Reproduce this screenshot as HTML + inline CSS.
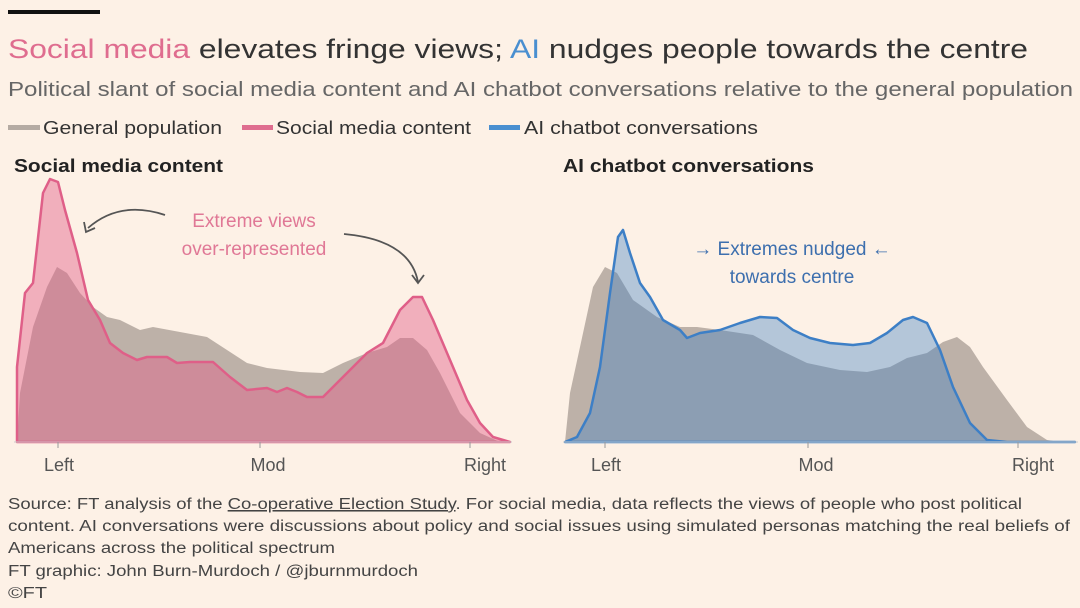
<!DOCTYPE html>
<html><head><meta charset="utf-8"><style>
html,body{margin:0;padding:0;background:#fdf1e6;}
svg{display:block;font-family:"Liberation Sans",sans-serif;}
</style></head><body>
<svg width="1080" height="608" viewBox="0 0 1080 608">
<rect width="1080" height="608" fill="#fdf1e6"/>
<rect x="8" y="10" width="92" height="4" fill="#111"/>
<text x="8" y="58" font-size="27" textLength="1020" lengthAdjust="spacingAndGlyphs" fill="#333"><tspan fill="#df6d8f">Social media</tspan> elevates fringe views; <tspan fill="#4a8fd0">AI</tspan> nudges people towards the centre</text>
<text x="8" y="96" font-size="20" textLength="1065" lengthAdjust="spacingAndGlyphs" fill="#666">Political slant of social media content and AI chatbot conversations relative to the general population</text>
<rect x="8" y="125" width="32" height="5" fill="#b5aba3"/>
<text x="43" y="134" font-size="18" textLength="179" lengthAdjust="spacingAndGlyphs" fill="#333">General population</text>
<rect x="242" y="125" width="31" height="5" fill="#df6d8f"/>
<text x="276" y="134" font-size="18" textLength="195" lengthAdjust="spacingAndGlyphs" fill="#333">Social media content</text>
<rect x="489" y="125" width="31" height="5" fill="#4a8fd0"/>
<text x="524" y="134" font-size="18" textLength="234" lengthAdjust="spacingAndGlyphs" fill="#333">AI chatbot conversations</text>
<text x="14" y="172" font-size="18" font-weight="bold" textLength="209" lengthAdjust="spacingAndGlyphs" fill="#222">Social media content</text>
<text x="563" y="172" font-size="18" font-weight="bold" textLength="251" lengthAdjust="spacingAndGlyphs" fill="#222">AI chatbot conversations</text>

<!-- Left chart -->
<path d="M17,442 L20,393 L33,327 L47,287 L57,267 L67,273 L80,293 L93,307 L107,317 L120,320 L140,330 L153,327 L180,332 L207,337 L227,350 L247,363 L267,368 L300,372 L323,373 L343,363 L367,353 L387,347 L400,338 L413,338 L427,350 L440,373 L460,413 L480,433 L500,442 Z" fill="#bdb1a8"/>
<path d="M17,367 L25,293 L33,283 L43,193 L50,179 L58,182 L65,210 L77,253 L88,300 L100,320 L110,343 L123,353 L137,360 L147,357 L167,357 L177,363 L190,362 L213,362 L230,377 L247,390 L267,388 L277,392 L287,388 L297,392 L307,397 L323,397 L333,387 L350,370 L367,353 L383,343 L400,310 L413,297 L422,297 L433,320 L450,360 L467,400 L480,423 L493,437 L510,442 L17,442 Z" fill="rgba(226,96,138,0.45)" stroke="#df5f88" stroke-width="2.5" stroke-linejoin="round"/>
<line x1="14" y1="442" x2="512" y2="442" stroke="#ccc" stroke-width="1"/>
<g stroke="#999" stroke-width="1"><line x1="58" y1="442" x2="58" y2="448"/><line x1="260" y1="442" x2="260" y2="448"/><line x1="470" y1="442" x2="470" y2="448"/></g>
<g font-size="18" fill="#555" text-anchor="middle"><text x="59" y="471">Left</text><text x="268" y="471">Mod</text><text x="485" y="471">Right</text></g>
<text x="254" y="227" font-size="19" fill="#e07896" text-anchor="middle">Extreme views</text>
<text x="254" y="255" font-size="19" fill="#e07896" text-anchor="middle">over-represented</text>
<path d="M165,215 Q120,200 88,228" fill="none" stroke="#555" stroke-width="1.8"/>
<path d="M84,222 L86,232 L95,228" fill="none" stroke="#555" stroke-width="1.8"/>
<path d="M344,234 Q410,240 418,282" fill="none" stroke="#555" stroke-width="1.8"/>
<path d="M412,275 L418,283 L424,275" fill="none" stroke="#555" stroke-width="1.8"/>

<!-- Right chart -->
<path d="M565,442 L570,393 L580,347 L593,287 L605,267 L617,273 L633,300 L657,317 L680,327 L697,327 L720,330 L753,335 L780,350 L807,363 L840,370 L867,372 L890,367 L907,358 L927,353 L943,342 L957,337 L970,347 L983,367 L1007,400 L1027,427 L1047,440 L1060,442 Z" fill="#bdb1a8"/>
<path d="M565,442 L577,437 L590,413 L600,367 L610,293 L618,237 L623,230 L630,253 L640,283 L650,297 L663,320 L680,330 L687,338 L700,333 L720,330 L740,323 L760,317 L777,318 L793,330 L810,338 L830,343 L853,345 L870,343 L887,333 L903,320 L913,317 L927,323 L940,350 L953,387 L970,423 L987,440 L1007,442 L1075,442 Z" fill="rgba(60,128,196,0.38)" stroke="#3d7fc6" stroke-width="2.5" stroke-linejoin="round"/>
<line x1="563" y1="442" x2="1078" y2="442" stroke="#ccc" stroke-width="1"/>
<g stroke="#999" stroke-width="1"><line x1="605" y1="442" x2="605" y2="448"/><line x1="808" y1="442" x2="808" y2="448"/><line x1="1018" y1="442" x2="1018" y2="448"/></g>
<g font-size="18" fill="#555" text-anchor="middle"><text x="606" y="471">Left</text><text x="816" y="471">Mod</text><text x="1033" y="471">Right</text></g>
<text x="792" y="255" font-size="19" fill="#3d6fae" text-anchor="middle">→ Extremes nudged ←</text>
<text x="792" y="283" font-size="19" fill="#3d6fae" text-anchor="middle">towards centre</text>

<g font-size="15.5" fill="#444">
<text x="8" y="509" textLength="1014" lengthAdjust="spacingAndGlyphs">Source: FT analysis of the <tspan text-decoration="underline">Co-operative Election Study</tspan>. For social media, data reflects the views of people who post political</text>
<text x="8" y="531" textLength="1062" lengthAdjust="spacingAndGlyphs">content. AI conversations were discussions about policy and social issues using simulated personas matching the real beliefs of</text>
<text x="8" y="553" textLength="327" lengthAdjust="spacingAndGlyphs">Americans across the political spectrum</text>
<text x="8" y="576" textLength="410" lengthAdjust="spacingAndGlyphs">FT graphic: John Burn-Murdoch / @jburnmurdoch</text>
<text x="8" y="598" textLength="39" lengthAdjust="spacingAndGlyphs">©FT</text>
</g>
</svg>
</body></html>
